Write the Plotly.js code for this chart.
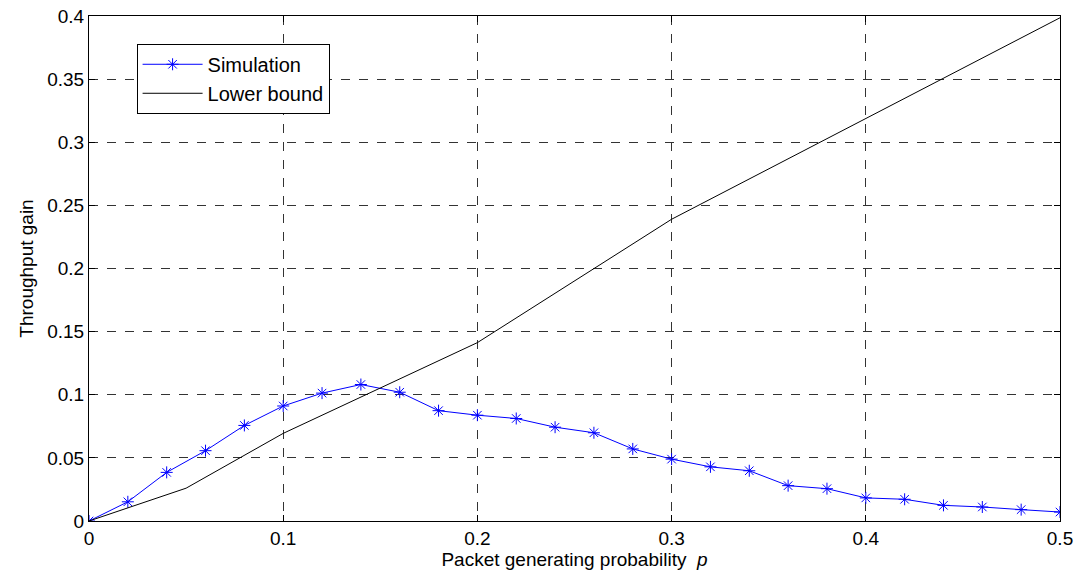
<!DOCTYPE html>
<html>
<head>
<meta charset="utf-8">
<script src="https://cdn.plot.ly/plotly-3.0.1.min.js"></script>
<style>html,body{margin:0;padding:0;background:#fff;}#chart{width:1079px;height:585px;}</style>
</head>
<body>
<div id="chart"></div>
<script>
const simX = [0,0.02,0.04,0.06,0.08,0.10,0.12,0.14,0.16,0.18,0.20,0.22,0.24,0.26,0.28,0.30,0.32,0.34,0.36,0.38,0.40,0.42,0.44,0.46,0.48,0.50];
const simY = [0,0.0152,0.0385,0.0557,0.0757,0.0911,0.1013,0.1081,0.1020,0.0874,0.0838,0.0812,0.0743,0.0699,0.0571,0.0490,0.0429,0.0398,0.0280,0.0256,0.0183,0.0172,0.0124,0.0111,0.0090,0.0071];
const lbX = [0,0.05,0.10,0.20,0.30,0.40,0.50];
const lbY = [0,0.026,0.0694,0.1413,0.239,0.3187,0.3986];
const xTicks = [0,0.1,0.2,0.3,0.4,0.5];
const xTickText = ['0','0.1','0.2','0.3','0.4','0.5'];
const yTicks = [0,0.05,0.1,0.15,0.2,0.25,0.3,0.35,0.4];
const yTickText = ['0','0.05','0.1','0.15','0.2','0.25','0.3','0.35','0.4'];

const fam = 'Liberation Sans, Arial, sans-serif';
const tickFont = {family:fam, size:19, color:'#000'};
const titleFont = {family:fam, size:19, color:'#000'};
const traces = [
  {x:simX, y:simY, name:'Simulation', type:'scatter', mode:'lines+markers',
   line:{color:'#0000ff', width:1},
   marker:{symbol:'asterisk-open', size:10, color:'#0000ff', line:{color:'#0000ff', width:1}}},
  {x:lbX, y:lbY, name:'Lower bound', type:'scatter', mode:'lines',
   line:{color:'#000', width:1}}
];
const axisCommon = {
  showline:true, linecolor:'#000', linewidth:1, mirror:'ticks',
  ticks:'inside', ticklen:6, tickcolor:'#000', tickwidth:1,
  showgrid:true, gridcolor:'#333', griddash:'dash', gridwidth:1,
  zeroline:false, tickfont:tickFont
};
const layout = {
  width:1079, height:585,
  margin:{l:89, r:19, t:16, b:64},
  paper_bgcolor:'#fff', plot_bgcolor:'#fff',
  font:tickFont,
  showlegend:true,
  legend:{x:0.049, y:0.945, xanchor:'left', yanchor:'top', bgcolor:'#fff',
          bordercolor:'#000', borderwidth:1, font:{family:fam, size:20, color:'#000'},
          tracegroupgap:0, itemwidth:60},
  xaxis:Object.assign({}, axisCommon, {range:[0,0.5], tickvals:xTicks, ticktext:xTickText,
     title:{text:'Packet generating probability  <i>p</i>', font:titleFont, standoff:2}}),
  yaxis:Object.assign({}, axisCommon, {range:[0,0.4], tickvals:yTicks, ticktext:yTickText,
     title:{text:'Throughput gain', font:titleFont, standoff:8}})
};
Plotly.newPlot('chart', traces, layout, {displayModeBar:false, staticPlot:true});
</script>
</body>
</html>
